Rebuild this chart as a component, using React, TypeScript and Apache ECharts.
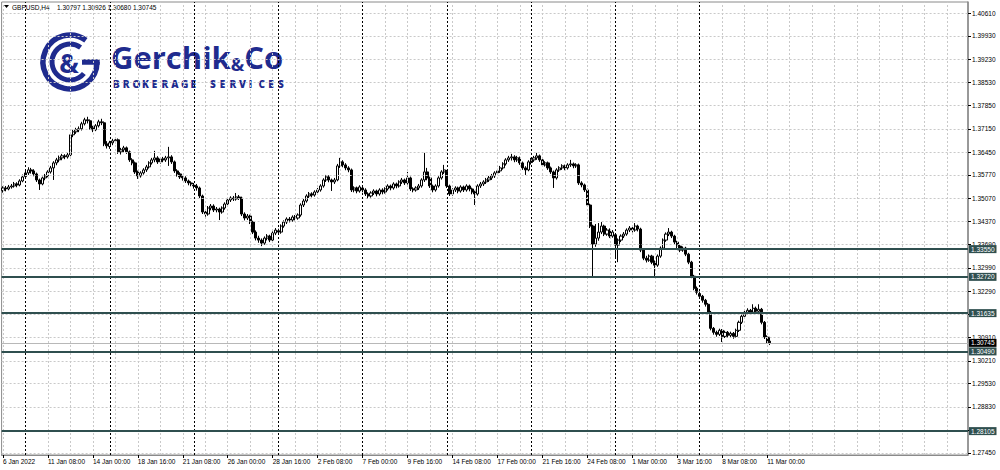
import React, { useEffect, useRef } from "react";
import * as echarts from "echarts";

// ---------- data ----------
const symbolName = "GBPUSD,H4";
const lastBarOHLC = ["1.30797", "1.30926", "1.30680", "1.30745"];

const priceTicks = [
  1.2745, 1.2813, 1.2883, 1.2953, 1.3021, 1.3091, 1.3161, 1.3229, 1.3299, 1.3369,
  1.3437, 1.3507, 1.3577, 1.3645, 1.3715, 1.3785, 1.3853, 1.3923, 1.3993, 1.4061,
];
const levelPrices = [1.3355, 1.3272, 1.31635, 1.3049, 1.28105];
const bidPrice = 1.30745;

const timeLabels = [
  "6 Jan 2022", "11 Jan 08:00", "14 Jan 00:00", "18 Jan 16:00", "21 Jan 08:00",
  "26 Jan 00:00", "28 Jan 16:00", "2 Feb 08:00", "7 Feb 00:00", "9 Feb 16:00",
  "14 Feb 08:00", "17 Feb 00:00", "21 Feb 16:00", "24 Feb 08:00", "1 Mar 00:00",
  "3 Mar 16:00", "8 Mar 08:00", "11 Mar 00:00",
];

// [open, close, low, high]
const candles: number[][] = [
  [1.3530, 1.3538, 1.3524, 1.3543], [1.3538, 1.3535, 1.3528, 1.3544], [1.3535, 1.3541, 1.3531, 1.3547],
  [1.3541, 1.3544, 1.3536, 1.3550], [1.3544, 1.3550, 1.3539, 1.3556], [1.3550, 1.3547, 1.3540, 1.3555],
  [1.3547, 1.3559, 1.3543, 1.3564], [1.3559, 1.3571, 1.3555, 1.3578], [1.3572, 1.3583, 1.3566, 1.3590],
  [1.3583, 1.3592, 1.3577, 1.3600], [1.3592, 1.3589, 1.3581, 1.3598], [1.3589, 1.3580, 1.3573, 1.3594],
  [1.3580, 1.3562, 1.3556, 1.3584], [1.3562, 1.3550, 1.3532, 1.3566], [1.3550, 1.3568, 1.3546, 1.3572],
  [1.3568, 1.3574, 1.3561, 1.3580], [1.3574, 1.3586, 1.3570, 1.3591], [1.3586, 1.3598, 1.3581, 1.3604],
  [1.3598, 1.3613, 1.3562, 1.3618], [1.3613, 1.3622, 1.3606, 1.3628], [1.3622, 1.3628, 1.3615, 1.3635],
  [1.3628, 1.3634, 1.3621, 1.3640], [1.3634, 1.3631, 1.3624, 1.3639], [1.3631, 1.3637, 1.3626, 1.3643],
  [1.3637, 1.3697, 1.3633, 1.3703], [1.3697, 1.3706, 1.3690, 1.3712], [1.3706, 1.3712, 1.3700, 1.3718],
  [1.3712, 1.3715, 1.3705, 1.3722], [1.3715, 1.3730, 1.3710, 1.3736], [1.3730, 1.3742, 1.3725, 1.3748],
  [1.3742, 1.3739, 1.3731, 1.3751], [1.3739, 1.3718, 1.3712, 1.3743], [1.3718, 1.3712, 1.3705, 1.3724],
  [1.3712, 1.3724, 1.3708, 1.3729], [1.3724, 1.3736, 1.3719, 1.3742], [1.3736, 1.3733, 1.3726, 1.3745],
  [1.3733, 1.3670, 1.3663, 1.3737], [1.3670, 1.3664, 1.3656, 1.3678], [1.3662, 1.3673, 1.3655, 1.3679],
  [1.3673, 1.3679, 1.3666, 1.3685], [1.3679, 1.3682, 1.3672, 1.3690], [1.3682, 1.3646, 1.3640, 1.3686],
  [1.3646, 1.3652, 1.3638, 1.3658], [1.3652, 1.3658, 1.3645, 1.3664], [1.3658, 1.3646, 1.3640, 1.3662],
  [1.3646, 1.3622, 1.3616, 1.3650], [1.3622, 1.3613, 1.3606, 1.3627], [1.3613, 1.3586, 1.3580, 1.3617],
  [1.3586, 1.3574, 1.3565, 1.3590], [1.3574, 1.3583, 1.3569, 1.3588], [1.3583, 1.3592, 1.3578, 1.3597],
  [1.3592, 1.3601, 1.3586, 1.3607], [1.3601, 1.3613, 1.3596, 1.3618], [1.3613, 1.3622, 1.3608, 1.3628],
  [1.3622, 1.3628, 1.3615, 1.3649], [1.3628, 1.3616, 1.3610, 1.3633], [1.3616, 1.3625, 1.3611, 1.3630],
  [1.3625, 1.3622, 1.3615, 1.3631], [1.3622, 1.3628, 1.3616, 1.3634], [1.3628, 1.3631, 1.3604, 1.3661],
  [1.3631, 1.3616, 1.3610, 1.3636], [1.3616, 1.3589, 1.3583, 1.3620], [1.3589, 1.3580, 1.3572, 1.3594],
  [1.3580, 1.3571, 1.3565, 1.3585], [1.3571, 1.3568, 1.3560, 1.3577], [1.3568, 1.3559, 1.3553, 1.3573],
  [1.3559, 1.3553, 1.3546, 1.3563], [1.3553, 1.3550, 1.3543, 1.3558], [1.3546, 1.3544, 1.3536, 1.3553],
  [1.3544, 1.3538, 1.3530, 1.3550], [1.3538, 1.3514, 1.3508, 1.3542], [1.3514, 1.3466, 1.3460, 1.3518],
  [1.3466, 1.3460, 1.3452, 1.3473], [1.3460, 1.3478, 1.3455, 1.3484], [1.3478, 1.3484, 1.3471, 1.3490],
  [1.3484, 1.3472, 1.3466, 1.3489], [1.3472, 1.3475, 1.3465, 1.3481], [1.3475, 1.3466, 1.3442, 1.3479],
  [1.3466, 1.3478, 1.3461, 1.3483], [1.3478, 1.3490, 1.3473, 1.3495], [1.3490, 1.3502, 1.3485, 1.3507],
  [1.3502, 1.3508, 1.3496, 1.3513], [1.3508, 1.3505, 1.3499, 1.3514], [1.3505, 1.3511, 1.3500, 1.3523],
  [1.3511, 1.3508, 1.3502, 1.3517], [1.3508, 1.3460, 1.3454, 1.3512], [1.3460, 1.3448, 1.3441, 1.3465],
  [1.3448, 1.3454, 1.3442, 1.3460], [1.3454, 1.3436, 1.3430, 1.3458], [1.3436, 1.3406, 1.3400, 1.3440],
  [1.3406, 1.3388, 1.3381, 1.3411], [1.3388, 1.3382, 1.3374, 1.3395], [1.3382, 1.3373, 1.3364, 1.3387],
  [1.3373, 1.3388, 1.3368, 1.3393], [1.3388, 1.3394, 1.3381, 1.3400], [1.3394, 1.3382, 1.3376, 1.3398],
  [1.3382, 1.3403, 1.3378, 1.3408], [1.3403, 1.3412, 1.3397, 1.3418], [1.3410, 1.3406, 1.3398, 1.3416],
  [1.3406, 1.3424, 1.3401, 1.3429], [1.3424, 1.3436, 1.3419, 1.3441], [1.3436, 1.3445, 1.3430, 1.3450],
  [1.3445, 1.3442, 1.3435, 1.3451], [1.3442, 1.3451, 1.3437, 1.3456], [1.3451, 1.3448, 1.3441, 1.3457],
  [1.3448, 1.3457, 1.3443, 1.3462], [1.3457, 1.3487, 1.3452, 1.3492], [1.3487, 1.3499, 1.3481, 1.3505],
  [1.3499, 1.3514, 1.3494, 1.3519], [1.3514, 1.3520, 1.3508, 1.3526], [1.3520, 1.3517, 1.3510, 1.3525],
  [1.3517, 1.3526, 1.3512, 1.3531], [1.3526, 1.3532, 1.3520, 1.3538], [1.3532, 1.3544, 1.3527, 1.3549],
  [1.3544, 1.3562, 1.3539, 1.3567], [1.3562, 1.3571, 1.3556, 1.3577], [1.3571, 1.3562, 1.3555, 1.3576],
  [1.3562, 1.3556, 1.3529, 1.3566], [1.3556, 1.3562, 1.3550, 1.3568], [1.3562, 1.3604, 1.3558, 1.3610],
  [1.3604, 1.3616, 1.3598, 1.3628], [1.3616, 1.3607, 1.3600, 1.3621], [1.3607, 1.3598, 1.3591, 1.3612],
  [1.3598, 1.3592, 1.3585, 1.3603], [1.3592, 1.3532, 1.3526, 1.3596], [1.3532, 1.3538, 1.3525, 1.3543],
  [1.3538, 1.3529, 1.3522, 1.3542], [1.3529, 1.3541, 1.3524, 1.3546], [1.3538, 1.3532, 1.3525, 1.3545],
  [1.3532, 1.3520, 1.3514, 1.3537], [1.3520, 1.3514, 1.3506, 1.3525], [1.3514, 1.3523, 1.3509, 1.3528],
  [1.3523, 1.3529, 1.3517, 1.3534], [1.3529, 1.3520, 1.3513, 1.3533], [1.3520, 1.3532, 1.3515, 1.3537],
  [1.3532, 1.3526, 1.3519, 1.3537], [1.3526, 1.3535, 1.3521, 1.3540], [1.3535, 1.3544, 1.3530, 1.3549],
  [1.3544, 1.3538, 1.3531, 1.3548], [1.3538, 1.3550, 1.3533, 1.3555], [1.3550, 1.3544, 1.3537, 1.3554],
  [1.3544, 1.3556, 1.3539, 1.3561], [1.3556, 1.3562, 1.3550, 1.3568], [1.3562, 1.3553, 1.3547, 1.3566],
  [1.3553, 1.3568, 1.3548, 1.3586], [1.3568, 1.3535, 1.3529, 1.3572], [1.3535, 1.3532, 1.3525, 1.3540],
  [1.3532, 1.3538, 1.3527, 1.3543], [1.3538, 1.3544, 1.3532, 1.3550], [1.3544, 1.3562, 1.3539, 1.3567],
  [1.3562, 1.3586, 1.3556, 1.3643], [1.3586, 1.3568, 1.3561, 1.3598], [1.3568, 1.3544, 1.3538, 1.3572],
  [1.3544, 1.3532, 1.3525, 1.3548], [1.3532, 1.3544, 1.3527, 1.3549], [1.3544, 1.3568, 1.3539, 1.3573],
  [1.3568, 1.3586, 1.3563, 1.3591], [1.3586, 1.3592, 1.3580, 1.3607], [1.3588, 1.3544, 1.3538, 1.3592],
  [1.3544, 1.3520, 1.3514, 1.3548], [1.3520, 1.3532, 1.3515, 1.3537], [1.3532, 1.3538, 1.3526, 1.3543],
  [1.3538, 1.3529, 1.3522, 1.3542], [1.3529, 1.3541, 1.3524, 1.3546], [1.3541, 1.3532, 1.3526, 1.3545],
  [1.3532, 1.3544, 1.3527, 1.3549], [1.3544, 1.3535, 1.3528, 1.3548], [1.3535, 1.3526, 1.3519, 1.3539],
  [1.3526, 1.3520, 1.3487, 1.3530], [1.3520, 1.3544, 1.3515, 1.3549], [1.3544, 1.3550, 1.3538, 1.3556],
  [1.3550, 1.3556, 1.3544, 1.3561], [1.3556, 1.3562, 1.3550, 1.3568], [1.3562, 1.3568, 1.3556, 1.3574],
  [1.3568, 1.3574, 1.3562, 1.3580], [1.3574, 1.3583, 1.3568, 1.3588], [1.3583, 1.3589, 1.3577, 1.3595],
  [1.3589, 1.3598, 1.3583, 1.3604], [1.3598, 1.3610, 1.3593, 1.3615], [1.3610, 1.3622, 1.3605, 1.3627],
  [1.3622, 1.3628, 1.3616, 1.3634], [1.3628, 1.3631, 1.3620, 1.3640], [1.3631, 1.3622, 1.3615, 1.3636],
  [1.3622, 1.3628, 1.3616, 1.3634], [1.3628, 1.3613, 1.3607, 1.3632], [1.3613, 1.3598, 1.3592, 1.3617],
  [1.3598, 1.3592, 1.3577, 1.3603], [1.3592, 1.3616, 1.3588, 1.3621], [1.3614, 1.3622, 1.3608, 1.3628],
  [1.3622, 1.3628, 1.3616, 1.3634], [1.3628, 1.3634, 1.3622, 1.3643], [1.3634, 1.3622, 1.3616, 1.3638],
  [1.3622, 1.3607, 1.3601, 1.3626], [1.3607, 1.3613, 1.3602, 1.3618], [1.3613, 1.3598, 1.3592, 1.3617],
  [1.3598, 1.3586, 1.3580, 1.3602], [1.3586, 1.3568, 1.3538, 1.3590], [1.3568, 1.3592, 1.3563, 1.3597],
  [1.3592, 1.3598, 1.3586, 1.3603], [1.3598, 1.3604, 1.3592, 1.3609], [1.3604, 1.3598, 1.3591, 1.3608],
  [1.3598, 1.3607, 1.3593, 1.3612], [1.3607, 1.3610, 1.3601, 1.3622], [1.3610, 1.3604, 1.3597, 1.3614],
  [1.3604, 1.3607, 1.3598, 1.3612], [1.3607, 1.3553, 1.3547, 1.3611], [1.3553, 1.3547, 1.3540, 1.3558],
  [1.3547, 1.3532, 1.3526, 1.3551], [1.3532, 1.3487, 1.3481, 1.3536], [1.3487, 1.3424, 1.3418, 1.3491],
  [1.3424, 1.3370, 1.3272, 1.3428], [1.3370, 1.3388, 1.3362, 1.3430], [1.3388, 1.3406, 1.3380, 1.3433],
  [1.3406, 1.3424, 1.3400, 1.3436], [1.3424, 1.3400, 1.3394, 1.3428], [1.3400, 1.3412, 1.3395, 1.3418],
  [1.3412, 1.3394, 1.3388, 1.3417], [1.3394, 1.3406, 1.3389, 1.3412], [1.3398, 1.3367, 1.3328, 1.3402],
  [1.3367, 1.3382, 1.3316, 1.3387], [1.3382, 1.3394, 1.3376, 1.3399], [1.3394, 1.3400, 1.3388, 1.3406],
  [1.3400, 1.3412, 1.3395, 1.3417], [1.3412, 1.3418, 1.3406, 1.3424], [1.3418, 1.3412, 1.3405, 1.3422],
  [1.3412, 1.3424, 1.3407, 1.3433], [1.3424, 1.3415, 1.3408, 1.3428], [1.3415, 1.3352, 1.3346, 1.3419],
  [1.3352, 1.3328, 1.3322, 1.3356], [1.3328, 1.3322, 1.3315, 1.3335], [1.3322, 1.3334, 1.3317, 1.3339],
  [1.3334, 1.3316, 1.3310, 1.3338], [1.3316, 1.3307, 1.3272, 1.3321], [1.3307, 1.3334, 1.3302, 1.3339],
  [1.3334, 1.3358, 1.3329, 1.3363], [1.3358, 1.3382, 1.3353, 1.3387], [1.3382, 1.3400, 1.3377, 1.3405],
  [1.3400, 1.3406, 1.3394, 1.3418], [1.3406, 1.3394, 1.3388, 1.3410], [1.3394, 1.3376, 1.3370, 1.3398],
  [1.3376, 1.3364, 1.3358, 1.3380], [1.3364, 1.3352, 1.3346, 1.3368], [1.3352, 1.3358, 1.3347, 1.3363],
  [1.3358, 1.3340, 1.3334, 1.3362], [1.3340, 1.3316, 1.3310, 1.3344], [1.3316, 1.3274, 1.3268, 1.3320],
  [1.3274, 1.3238, 1.3232, 1.3278], [1.3238, 1.3226, 1.3219, 1.3243], [1.3222, 1.3214, 1.3206, 1.3229],
  [1.3214, 1.3202, 1.3195, 1.3218], [1.3202, 1.3190, 1.3183, 1.3206], [1.3190, 1.3166, 1.3160, 1.3194],
  [1.3166, 1.3118, 1.3112, 1.3170], [1.3118, 1.3106, 1.3099, 1.3122], [1.3106, 1.3100, 1.3093, 1.3111],
  [1.3100, 1.3112, 1.3095, 1.3117], [1.3112, 1.3094, 1.3077, 1.3116], [1.3094, 1.3106, 1.3089, 1.3111],
  [1.3106, 1.3097, 1.3090, 1.3110], [1.3097, 1.3103, 1.3091, 1.3108], [1.3103, 1.3094, 1.3087, 1.3107],
  [1.3094, 1.3112, 1.3089, 1.3117], [1.3112, 1.3136, 1.3107, 1.3141], [1.3136, 1.3154, 1.3131, 1.3159],
  [1.3154, 1.3166, 1.3149, 1.3171], [1.3166, 1.3172, 1.3160, 1.3178], [1.3172, 1.3166, 1.3159, 1.3176],
  [1.3166, 1.3178, 1.3161, 1.3190], [1.3178, 1.3169, 1.3162, 1.3183], [1.3169, 1.3175, 1.3163, 1.3190],
  [1.3175, 1.3136, 1.3130, 1.3179], [1.3136, 1.3092, 1.3086, 1.3140], [1.3092, 1.3080, 1.3073, 1.3097],
  [1.30797, 1.30745, 1.3068, 1.30926],
];

// ---------- time slots (H4, weekdays only, incl. empty space right of last bar) ----------
const MONTHS = ["Jan", "Feb", "Mar", "Apr"];
const SLOT_COUNT = 344;
const slots: string[] = [];
const weekStarts: number[] = [];
{
  let t = Date.UTC(2022, 0, 6, 16);
  while (slots.length < SLOT_COUNT) {
    const d = new Date(t);
    const wd = d.getUTCDay();
    if (wd !== 0 && wd !== 6) {
      if (wd === 1 && d.getUTCHours() === 0 && slots.length < candles.length) weekStarts.push(slots.length);
      slots.push(`${d.getUTCDate()} ${MONTHS[d.getUTCMonth()]} ${String(d.getUTCHours()).padStart(2, "0")}:00`);
    }
    t += 4 * 3600 * 1000;
  }
}
const LABEL_EVERY = 16;
const GRID_EVERY = 8;

const NAVY = "#1f2b8e";
const FONT = "'Liberation Sans', Arial, sans-serif";
const LOGO_FONT = "'Open Sans', sans-serif";

export default function App() {
  const ref = useRef<HTMLDivElement>(null);
  useEffect(() => {
    if (!ref.current) return;
    const chart = echarts.init(ref.current, undefined, { renderer: "svg" });

    const vGrid: any[] = [];
    for (let i = 0; i < SLOT_COUNT; i += GRID_EVERY) vGrid.push({ xAxis: i });

    const letters = "BROKERAGE SERVICES".split("");
    const levelLabel = (text: string, bg: string) => ({
      show: true,
      position: "end",
      distance: 1,
      formatter: () => text,
      color: "#fff",
      backgroundColor: bg,
      padding: [1, 2, 0, 2],
      fontSize: 6.5,
      fontFamily: FONT,
    });

    const option: any = {
      animation: false,
      backgroundColor: "#ffffff",
      grid: { left: 1, right: 32, top: 2, bottom: 15, show: true, borderColor: "#8a8a8a", borderWidth: 1 },
      xAxis: {
        type: "category",
        data: slots,
        boundaryGap: true,
        axisLine: { show: true, lineStyle: { color: "#8a8a8a", width: 1 } },
        axisTick: {
          show: true,
          alignWithLabel: true,
          length: 3,
          lineStyle: { color: "#000" },
          interval: (i: number) => i % LABEL_EVERY === 0 && i / LABEL_EVERY < timeLabels.length,
        },
        axisLabel: {
          interval: (i: number) => i % LABEL_EVERY === 0 && i / LABEL_EVERY < timeLabels.length,
          formatter: (_v: string, i: number) => timeLabels[i / LABEL_EVERY] ?? "",
          align: "left",
          margin: 3,
          fontSize: 6.5,
          fontFamily: FONT,
          color: "#000",
        },
        splitLine: { show: false },
      },
      yAxis: {
        type: "value",
        position: "right",
        min: 1.2739,
        max: 1.40944,
        scale: true,
        splitLine: { show: false },
        axisLine: { show: true, lineStyle: { color: "#8a8a8a", width: 1.5 } },
        axisTick: { show: true, length: 3, customValues: priceTicks, lineStyle: { color: "#000" } },
        axisLabel: {
          customValues: priceTicks,
          formatter: (v: number) => v.toFixed(5),
          margin: 4,
          fontSize: 6.5,
          fontFamily: FONT,
          color: "#000",
        },
      },
      series: [
        {
          type: "line",
          data: [],
          z: 1,
          silent: true,
          markLine: {
            silent: true,
            precision: 6,
            symbol: ["none", "none"],
            label: { show: false },
            lineStyle: { color: "#c9c9c9", type: [2, 2], width: 1 },
            data: [...priceTicks.map((v) => ({ yAxis: v })), ...vGrid],
          },
        },
        {
          type: "line",
          data: [],
          z: 1.5,
          silent: true,
          markLine: {
            silent: true,
            precision: 6,
            symbol: ["none", "none"],
            label: { show: false },
            lineStyle: { color: "#000", type: [2, 2], width: 1 },
            data: weekStarts.map((i) => ({ xAxis: i })),
          },
        },
        {
          type: "candlestick",
          data: candles,
          z: 3,
          barWidth: 2.6,
          itemStyle: {
            color: "#ffffff",
            color0: "#000000",
            borderColor: "#000000",
            borderColor0: "#000000",
            borderWidth: 1,
          },
        },
        {
          type: "line",
          data: [],
          z: 4,
          silent: true,
          markLine: {
            silent: true,
            precision: 6,
            symbol: ["none", "none"],
            data: [
              {
                yAxis: bidPrice,
                lineStyle: { color: "#b8b8b8", type: "solid", width: 1 },
                label: levelLabel(bidPrice.toFixed(5), "#000"),
              },
              ...levelPrices.map((v) => ({
                yAxis: v,
                lineStyle: { color: "#2f4f4f", type: "solid", width: 2 },
                label: levelLabel(v.toFixed(5), "#2f4f4f"),
              })),
            ],
          },
        },
      ],
      graphic: [
        // header
        { type: "polygon", shape: { points: [[4, 5], [9, 5], [6.5, 8]] }, style: { fill: "#000" } },
        { type: "text", x: 12, y: 7, style: { text: symbolName, fontSize: 6.5, fontFamily: FONT, fill: "#000", verticalAlign: "middle" } },
        { type: "text", x: 57, y: 7, style: { text: lastBarOHLC.join(" "), fontSize: 6.5, fontFamily: FONT, fill: "#000", verticalAlign: "middle" } },
        // logo emblem
        {
          type: "arc",
          shape: { cx: 70, cy: 62, r: 27, startAngle: -Math.PI * 0.3, endAngle: 0, clockwise: false },
          style: { stroke: NAVY, lineWidth: 5.5, fill: null },
        },
        { type: "line", shape: { x1: 82, y1: 62, x2: 99.7, y2: 62 }, style: { stroke: NAVY, lineWidth: 5.5 } },
        {
          type: "arc",
          shape: { cx: 70, cy: 62, r: 18, startAngle: -Math.PI * 0.3, endAngle: Math.PI * 0.22, clockwise: false },
          style: { stroke: NAVY, lineWidth: 5, fill: null },
        },
        {
          type: "text",
          x: 69,
          y: 63,
          style: { text: "&", fontSize: 26, fontWeight: "bold", fontFamily: LOGO_FONT, fill: NAVY, align: "center", verticalAlign: "middle" },
        },
        // logo wordmark
        {
          type: "text",
          x: 111,
          y: 57,
          style: {
            text: "{a|Gerchik}{b|&}{a|Co}",
            verticalAlign: "middle",
            rich: {
              a: { fontSize: 31, fontWeight: "bold", fontFamily: LOGO_FONT, fill: NAVY, color: NAVY },
              b: { fontSize: 18, fontWeight: "bold", fontFamily: LOGO_FONT, fill: NAVY, color: NAVY, verticalAlign: "bottom" },
            },
          },
        },
        ...letters.map((ch, k) => ({
          type: "text",
          x: 113 + k * 9.7,
          y: 84,
          style: { text: ch, fontSize: 10, fontWeight: 800, fontFamily: LOGO_FONT, fill: NAVY, verticalAlign: "middle" },
        })),
      ],
    };

    chart.setOption(option);
    return () => chart.dispose();
  }, []);

  return <div ref={ref} style={{ position: "absolute", left: 0, top: 0, width: 1000, height: 470 }} />;
}
